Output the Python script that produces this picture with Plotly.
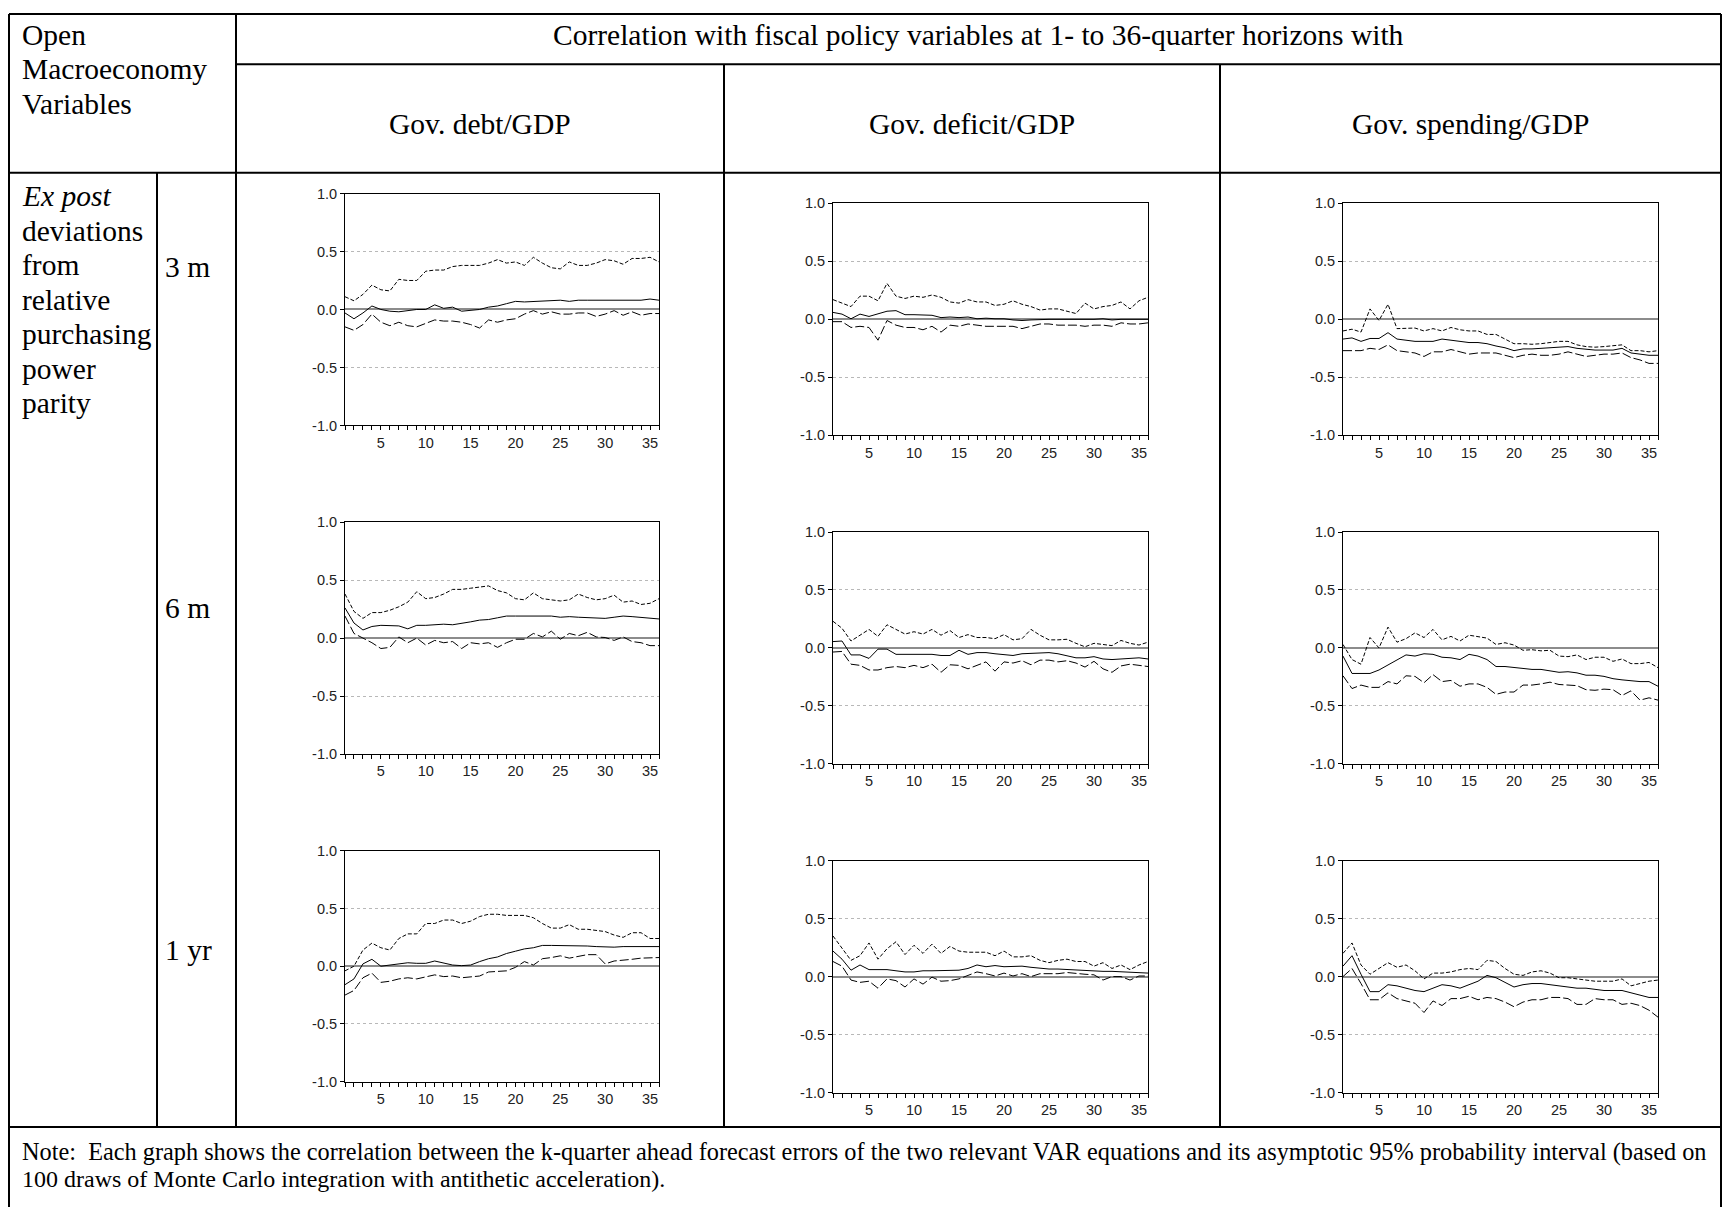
import plotly.graph_objects as go

W, H = 1723, 1215

horizons = list(range(1, 37))
x_tick_labels = [str(k) if k % 5 == 0 else "" for k in horizons]
y_tick_vals = [-1.0, -0.5, 0.0, 0.5, 1.0]
y_tick_labels = ["-1.0", "-0.5", "0.0", "0.5", "1.0"]

fiscal_vars = ["Gov. debt/GDP", "Gov. deficit/GDP", "Gov. spending/GDP"]
horizon_labels = ["3 m", "6 m", "1 yr"]

# ---- Gov. debt/GDP ----
debt_3m_est = [-0.03, -0.08, -0.03, 0.03, 0.0, -0.015, -0.02, -0.01, 0.0, 0.0, 0.04, 0.01, 0.02, -0.015, -0.01, 0.0, 0.02, 0.03, 0.05, 0.07, 0.065, 0.07, 0.075, 0.08, 0.08, 0.07, 0.08, 0.08, 0.08, 0.08, 0.075, 0.08, 0.08, 0.08, 0.09, 0.08]
debt_3m_hi = [0.11, 0.075, 0.13, 0.21, 0.17, 0.16, 0.26, 0.25, 0.25, 0.33, 0.34, 0.34, 0.37, 0.38, 0.38, 0.38, 0.40, 0.43, 0.40, 0.41, 0.38, 0.45, 0.40, 0.36, 0.35, 0.41, 0.38, 0.38, 0.40, 0.43, 0.42, 0.39, 0.44, 0.44, 0.45, 0.41]
debt_3m_lo = [-0.15, -0.18, -0.13, -0.04, -0.11, -0.14, -0.11, -0.14, -0.15, -0.12, -0.09, -0.10, -0.10, -0.11, -0.13, -0.16, -0.09, -0.11, -0.09, -0.08, -0.04, -0.01, -0.04, -0.02, -0.04, -0.04, -0.03, -0.03, -0.06, -0.04, -0.01, -0.05, -0.02, -0.05, -0.035, -0.035]

debt_6m_est = [0.26, 0.13, 0.07, 0.10, 0.11, 0.11, 0.105, 0.08, 0.11, 0.11, 0.115, 0.12, 0.115, 0.125, 0.14, 0.155, 0.16, 0.175, 0.19, 0.19, 0.19, 0.185, 0.19, 0.19, 0.18, 0.185, 0.18, 0.175, 0.17, 0.17, 0.18, 0.19, 0.185, 0.18, 0.175, 0.165]
debt_6m_hi = [0.38, 0.23, 0.17, 0.22, 0.22, 0.24, 0.27, 0.31, 0.40, 0.34, 0.35, 0.38, 0.42, 0.42, 0.43, 0.44, 0.45, 0.41, 0.39, 0.34, 0.33, 0.39, 0.34, 0.33, 0.32, 0.33, 0.38, 0.35, 0.33, 0.34, 0.37, 0.31, 0.32, 0.29, 0.30, 0.34]
debt_6m_lo = [0.19, 0.04, 0.0, -0.04, -0.09, -0.08, 0.01, -0.04, 0.0, -0.06, -0.02, -0.04, -0.03, -0.09, -0.04, -0.05, -0.04, -0.08, -0.04, -0.01, -0.01, 0.04, 0.01, 0.06, -0.01, 0.04, 0.02, 0.05, 0.01, 0.005, -0.02, 0.01, -0.03, -0.04, -0.065, -0.065]

debt_1y_est = [-0.16, -0.11, 0.02, 0.06, 0.0, 0.01, 0.025, 0.03, 0.025, 0.025, 0.045, 0.03, 0.01, 0.005, 0.01, 0.04, 0.065, 0.08, 0.11, 0.13, 0.15, 0.16, 0.18, 0.18, 0.18, 0.18, 0.175, 0.175, 0.17, 0.165, 0.165, 0.17, 0.17, 0.17, 0.165, 0.17]
debt_1y_hi = [-0.04, 0.0, 0.14, 0.20, 0.16, 0.14, 0.24, 0.28, 0.28, 0.37, 0.37, 0.40, 0.40, 0.37, 0.39, 0.43, 0.45, 0.45, 0.44, 0.44, 0.44, 0.42, 0.37, 0.33, 0.33, 0.36, 0.32, 0.32, 0.31, 0.30, 0.27, 0.25, 0.29, 0.29, 0.24, 0.24]
debt_1y_lo = [-0.25, -0.21, -0.10, -0.06, -0.14, -0.13, -0.11, -0.10, -0.11, -0.095, -0.075, -0.09, -0.085, -0.10, -0.09, -0.085, -0.05, -0.045, -0.04, -0.01, 0.04, 0.01, 0.065, 0.075, 0.09, 0.07, 0.085, 0.10, 0.10, 0.02, 0.045, 0.05, 0.06, 0.07, 0.075, 0.075]

# ---- Gov. deficit/GDP ----
deficit_3m_est = [0.06, 0.045, 0.005, 0.045, 0.025, 0.05, 0.07, 0.075, 0.04, 0.04, 0.035, 0.035, 0.015, 0.02, 0.015, 0.02, 0.005, 0.01, 0.005, 0.005, -0.005, -0.01, -0.005, 0.0, 0.0, 0.0, 0.0, -0.005, -0.005, 0.0, 0.005, -0.005, 0.0, 0.0, 0.0, 0.0]
deficit_3m_hi = [0.17, 0.14, 0.11, 0.20, 0.20, 0.16, 0.31, 0.20, 0.18, 0.20, 0.19, 0.21, 0.19, 0.15, 0.14, 0.17, 0.15, 0.15, 0.12, 0.13, 0.16, 0.13, 0.11, 0.08, 0.09, 0.09, 0.07, 0.05, 0.14, 0.09, 0.11, 0.12, 0.15, 0.09, 0.16, 0.19]
deficit_3m_lo = [-0.02, -0.02, -0.07, -0.06, -0.07, -0.18, -0.01, -0.05, -0.07, -0.07, -0.09, -0.06, -0.11, -0.05, -0.06, -0.04, -0.05, -0.06, -0.06, -0.06, -0.06, -0.08, -0.06, -0.04, -0.04, -0.05, -0.05, -0.05, -0.06, -0.05, -0.05, -0.06, -0.03, -0.04, -0.04, -0.03]

deficit_6m_est = [0.055, 0.06, -0.06, -0.06, -0.09, -0.01, -0.01, -0.055, -0.055, -0.055, -0.05, -0.055, -0.065, -0.065, -0.02, -0.055, -0.04, -0.04, -0.05, -0.055, -0.065, -0.05, -0.045, -0.04, -0.04, -0.05, -0.065, -0.085, -0.085, -0.075, -0.095, -0.10, -0.095, -0.09, -0.085, -0.095]
deficit_6m_hi = [0.23, 0.17, 0.06, 0.11, 0.16, 0.10, 0.20, 0.16, 0.12, 0.14, 0.12, 0.16, 0.11, 0.15, 0.09, 0.115, 0.09, 0.09, 0.08, 0.115, 0.07, 0.08, 0.16, 0.11, 0.07, 0.07, 0.075, 0.04, 0.01, 0.04, 0.03, 0.02, 0.065, 0.04, 0.025, 0.05]
deficit_6m_lo = [-0.035, -0.03, -0.14, -0.15, -0.19, -0.19, -0.17, -0.16, -0.17, -0.15, -0.17, -0.14, -0.21, -0.145, -0.15, -0.18, -0.15, -0.12, -0.20, -0.12, -0.13, -0.11, -0.145, -0.105, -0.105, -0.12, -0.11, -0.13, -0.165, -0.115, -0.18, -0.21, -0.155, -0.14, -0.15, -0.16]

deficit_1y_est = [0.22, 0.15, 0.055, 0.10, 0.06, 0.06, 0.06, 0.05, 0.04, 0.04, 0.05, 0.05, 0.05, 0.05, 0.055, 0.07, 0.10, 0.085, 0.095, 0.085, 0.09, 0.09, 0.08, 0.07, 0.065, 0.065, 0.06, 0.06, 0.05, 0.045, 0.045, 0.045, 0.04, 0.035, 0.03, 0.03]
deficit_1y_hi = [0.35, 0.25, 0.14, 0.18, 0.29, 0.15, 0.24, 0.30, 0.19, 0.27, 0.20, 0.28, 0.20, 0.26, 0.22, 0.21, 0.21, 0.21, 0.18, 0.22, 0.17, 0.17, 0.18, 0.14, 0.12, 0.14, 0.15, 0.13, 0.13, 0.09, 0.12, 0.07, 0.10, 0.06, 0.10, 0.13]
deficit_1y_lo = [0.13, 0.09, -0.03, -0.05, -0.04, -0.10, -0.02, -0.035, -0.09, -0.02, -0.065, -0.005, -0.04, -0.035, -0.02, 0.01, 0.04, 0.025, 0.005, 0.03, 0.005, 0.025, 0.0, 0.025, 0.025, 0.025, 0.035, 0.025, 0.02, 0.015, -0.03, 0.0, 0.0, -0.03, 0.005, 0.005]

# ---- Gov. spending/GDP ----
spending_3m_est = [-0.17, -0.16, -0.19, -0.165, -0.165, -0.115, -0.17, -0.18, -0.19, -0.19, -0.19, -0.17, -0.18, -0.19, -0.20, -0.20, -0.21, -0.23, -0.245, -0.27, -0.255, -0.255, -0.25, -0.25, -0.24, -0.235, -0.25, -0.26, -0.265, -0.265, -0.265, -0.25, -0.29, -0.30, -0.31, -0.31]
spending_3m_hi = [-0.10, -0.085, -0.11, 0.09, -0.01, 0.13, -0.08, -0.08, -0.075, -0.10, -0.08, -0.10, -0.07, -0.09, -0.10, -0.10, -0.13, -0.13, -0.17, -0.21, -0.21, -0.215, -0.21, -0.20, -0.19, -0.19, -0.22, -0.235, -0.24, -0.235, -0.225, -0.22, -0.27, -0.27, -0.28, -0.27]
spending_3m_lo = [-0.27, -0.27, -0.27, -0.25, -0.26, -0.22, -0.27, -0.28, -0.29, -0.32, -0.28, -0.28, -0.26, -0.28, -0.30, -0.29, -0.29, -0.29, -0.31, -0.33, -0.31, -0.30, -0.31, -0.31, -0.30, -0.28, -0.30, -0.32, -0.31, -0.30, -0.30, -0.29, -0.33, -0.35, -0.38, -0.38]

spending_6m_est = [-0.07, -0.22, -0.22, -0.22, -0.19, -0.145, -0.105, -0.06, -0.07, -0.05, -0.055, -0.08, -0.085, -0.10, -0.055, -0.07, -0.10, -0.16, -0.16, -0.17, -0.175, -0.185, -0.185, -0.20, -0.21, -0.205, -0.215, -0.235, -0.235, -0.245, -0.265, -0.275, -0.285, -0.29, -0.29, -0.33]
spending_6m_hi = [0.03, -0.10, -0.14, 0.09, 0.0, 0.18, 0.05, 0.08, 0.13, 0.09, 0.16, 0.07, 0.10, 0.06, 0.11, 0.10, 0.085, 0.03, 0.045, 0.025, -0.02, -0.015, -0.025, -0.02, -0.07, -0.075, -0.06, -0.10, -0.08, -0.08, -0.115, -0.095, -0.135, -0.135, -0.125, -0.17]
spending_6m_lo = [-0.24, -0.35, -0.32, -0.34, -0.34, -0.29, -0.31, -0.24, -0.245, -0.30, -0.23, -0.29, -0.28, -0.33, -0.31, -0.31, -0.34, -0.40, -0.38, -0.38, -0.32, -0.32, -0.31, -0.295, -0.315, -0.32, -0.325, -0.36, -0.365, -0.355, -0.36, -0.41, -0.37, -0.45, -0.43, -0.45]

spending_1y_est = [0.09, 0.18, 0.02, -0.13, -0.13, -0.07, -0.08, -0.10, -0.12, -0.13, -0.10, -0.07, -0.08, -0.10, -0.07, -0.04, 0.01, -0.01, -0.05, -0.09, -0.07, -0.06, -0.06, -0.07, -0.08, -0.09, -0.10, -0.10, -0.11, -0.12, -0.12, -0.12, -0.14, -0.16, -0.18, -0.18]
spending_1y_hi = [0.20, 0.29, 0.10, 0.02, 0.07, 0.12, 0.08, 0.10, 0.05, -0.02, 0.03, 0.03, 0.04, 0.06, 0.07, 0.06, 0.14, 0.13, 0.07, 0.02, 0.01, 0.04, 0.05, 0.03, -0.01, -0.01, -0.02, -0.03, -0.04, -0.04, -0.04, -0.02, -0.08, -0.06, -0.04, -0.03]
spending_1y_lo = [0.0, 0.07, -0.06, -0.20, -0.20, -0.14, -0.19, -0.21, -0.23, -0.31, -0.21, -0.25, -0.19, -0.19, -0.17, -0.20, -0.18, -0.19, -0.22, -0.26, -0.22, -0.20, -0.20, -0.18, -0.18, -0.19, -0.24, -0.24, -0.19, -0.20, -0.20, -0.24, -0.23, -0.25, -0.29, -0.35]

panels = [
    [(debt_3m_est, debt_3m_hi, debt_3m_lo), (deficit_3m_est, deficit_3m_hi, deficit_3m_lo), (spending_3m_est, spending_3m_hi, spending_3m_lo)],
    [(debt_6m_est, debt_6m_hi, debt_6m_lo), (deficit_6m_est, deficit_6m_hi, deficit_6m_lo), (spending_6m_est, spending_6m_hi, spending_6m_lo)],
    [(debt_1y_est, debt_1y_hi, debt_1y_lo), (deficit_1y_est, deficit_1y_hi, deficit_1y_lo), (spending_1y_est, spending_1y_hi, spending_1y_lo)],
]

# ---- layout geometry (pixels) ----
col_x = [(345, 659), (833, 1148), (1343, 1658)]
row_y = [
    [(188, 423), (198, 433), (198, 433)],
    [(521, 756), (531, 766), (531, 766)],
    [(854, 1088), (864, 1099), (864, 1099)],
]

def px(x):
    return x / W

def py(y):
    return 1 - y / H

fig = go.Figure()
layout = dict(
    width=W, height=H,
    margin=dict(l=0, r=0, t=0, b=0),
    paper_bgcolor="white", plot_bgcolor="white",
    showlegend=False,
)

tick_font = dict(family="Liberation Sans, Arial, sans-serif", size=14.5, color="#222")

idx = 0
for r in range(3):
    for c in range(3):
        idx += 1
        xa = "x" if idx == 1 else f"x{idx}"
        ya = "y" if idx == 1 else f"y{idx}"
        est, hi, lo = panels[r][c]
        fig.add_trace(go.Scatter(x=horizons, y=hi, mode="lines", xaxis=xa, yaxis=ya,
                                 line=dict(color="black", width=1, dash="4px,2px")))
        fig.add_trace(go.Scatter(x=horizons, y=lo, mode="lines", xaxis=xa, yaxis=ya,
                                 line=dict(color="black", width=1, dash="9px,3px")))
        fig.add_trace(go.Scatter(x=horizons, y=est, mode="lines", xaxis=xa, yaxis=ya,
                                 line=dict(color="black", width=1)))
        x0, x1 = col_x[c]
        y0, y1 = row_y[r][c]
        layout["xaxis" if idx == 1 else f"xaxis{idx}"] = dict(
            domain=[px(x0), px(x1)], range=[1, 36], anchor=ya,
            tickmode="array", tickvals=horizons, ticktext=x_tick_labels,
            ticks="outside", ticklen=4, tickwidth=1, tickcolor="black",
            showline=True, linecolor="black", linewidth=1, mirror=True,
            showgrid=False, zeroline=False, tickfont=tick_font, fixedrange=True,
        )
        layout["yaxis" if idx == 1 else f"yaxis{idx}"] = dict(
            domain=[py(y1), py(y0)], range=[-1, 1], anchor=xa,
            tickmode="array", tickvals=y_tick_vals, ticktext=y_tick_labels,
            ticks="outside", ticklen=4, tickwidth=1, tickcolor="black",
            showline=True, linecolor="black", linewidth=1, mirror=True,
            showgrid=True, gridcolor="#b8b8b8", gridwidth=1, griddash="dot",
            zeroline=True, zerolinecolor="#8c8c8c", zerolinewidth=2,
            tickfont=tick_font, fixedrange=True,
        )

# ---- table lines ----
shapes = []
def hline(y, xa, xb):
    shapes.append(dict(type="line", xref="paper", yref="paper", x0=px(xa), x1=px(xb), y0=py(y), y1=py(y),
                       line=dict(color="black", width=2)))
def vline(x, ya, yb):
    shapes.append(dict(type="line", xref="paper", yref="paper", x0=px(x), x1=px(x), y0=py(ya), y1=py(yb),
                       line=dict(color="black", width=2)))

hline(6, 9, 1721)
hline(57, 236, 1721)
hline(167, 9, 1721)
hline(1134, 9, 1721)
vline(9, 6, 1215)
vline(1721, 6, 1215)
vline(236, 6, 1134)
vline(157, 167, 1134)
vline(724, 57, 1134)
vline(1220, 57, 1134)
layout["shapes"] = shapes

# ---- table text ----
serif = "Liberation Serif, Times New Roman, serif"
ann = []
def text(s, x, y, size=29.5, xanchor="left", italic=False):
    ann.append(dict(text=s, x=px(x), y=py(y), xref="paper", yref="paper", showarrow=False,
                    xanchor=xanchor, yanchor="middle",
                    font=dict(family=serif, size=size, color="black",
                              style="italic" if italic else "normal")))

text("Open", 20, 27)
text("Macroeconomy", 20, 62)
text("Variables", 20, 97)
text("Correlation with fiscal policy variables at 1- to 36-quarter horizons with", 978, 27, xanchor="center")
for name, cx in zip(fiscal_vars, [480, 972, 1470]):
    text(name, cx, 118, xanchor="center")

text("Ex post", 20, 191, italic=True)
for i, w in enumerate(["deviations", "from", "relative", "purchasing", "power", "parity"]):
    text(w, 20, 226 + i * 34.9)

for lbl, yy in zip(horizon_labels, [262, 608, 955]):
    text(lbl, 163, yy)

text("Note:  Each graph shows the correlation between the k-quarter ahead forecast errors of the two relevant VAR equations and its asymptotic 95% probability interval (based on",
     20, 1159, size=24.3)
text("100 draws of Monte Carlo integration with antithetic acceleration).", 20, 1187, size=24)

layout["annotations"] = ann
fig.update_layout(**layout)

page_fix = (
    "var s=document.createElement('style');"
    "s.innerHTML='html,body{margin:0!important;padding:0!important;overflow:hidden;width:1723px;height:1215px;}"
    ".plotly-graph-div{position:fixed!important;top:0;left:0;}';"
    "document.head.appendChild(s);"
)
fig.write_html("out.html", config={"displayModeBar": False}, post_script=page_fix)
